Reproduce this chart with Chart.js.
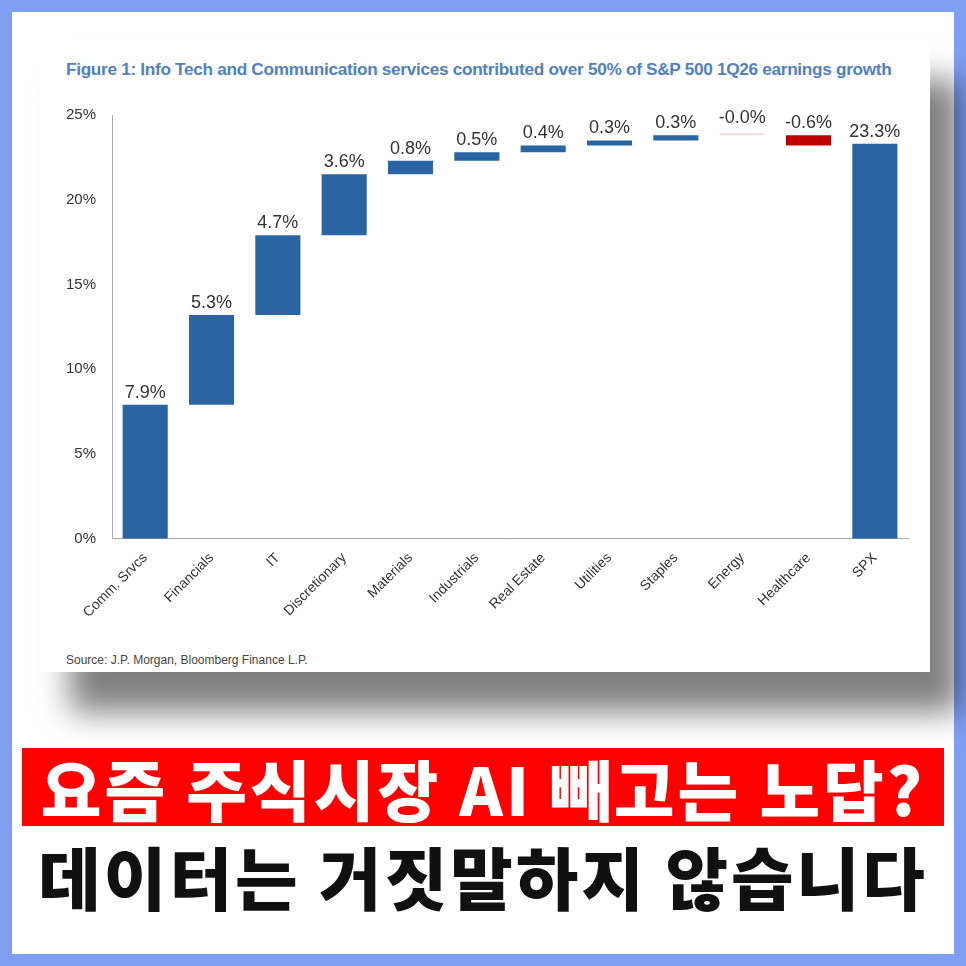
<!DOCTYPE html><html><head><meta charset="utf-8">
<script src="https://cdn.jsdelivr.net/npm/chart.js@4"></script>
<style>
body{margin:0;width:966px;height:966px;background:#7f9ff2;overflow:hidden;font-family:Arial,"Liberation Sans",sans-serif}
#page{position:absolute;left:12px;top:12px;width:942px;height:942px;background:#fff}
#card{position:absolute;left:40px;top:40px;width:890px;height:632px;background:#fff;box-shadow:30px 40px 30px rgba(0,0,0,0.5)}
#title{position:absolute;left:26px;top:19px;font-size:17.2px;font-weight:bold;color:#4f81bd;white-space:nowrap;letter-spacing:-0.3px}
#wrap{position:absolute;left:6px;top:58px;width:884px;height:526px}
#src{position:absolute;left:26px;top:613px;font-size:12px;color:#444}
#l1{position:absolute;left:22px;top:748px;width:922px;height:78px;background:#ff0000;color:#fff;font:900 66px "Noto Sans CJK KR";text-align:center;line-height:78px;letter-spacing:3px}
#l2{position:absolute;left:0;top:826px;width:966px;text-align:center;color:#111;font:900 68px "Noto Sans CJK KR";letter-spacing:3px}
</style></head><body>
<div id="page"></div>
<div id="card"><div id="title">Figure 1: Info Tech and Communication services contributed over 50% of S&amp;P 500 1Q26 earnings growth</div>
<div id="wrap"><canvas id="c"></canvas></div>
<div id="src">Source: J.P. Morgan, Bloomberg Finance L.P.</div></div>
<div id="l1">요즘 주식시장 AI 빼고는 노답?</div>
<div id="l2">데이터는 거짓말하지 않습니다</div>
<script>
const categories=["Comm. Srvcs","Financials","IT","Discretionary","Materials","Industrials","Real Estate","Utilities","Staples","Energy","Healthcare","SPX"];
const contributions=[7.9,5.3,4.7,3.6,0.8,0.5,0.4,0.3,0.3,-0.0,-0.6,23.3];
const labels=["7.9%","5.3%","4.7%","3.6%","0.8%","0.5%","0.4%","0.3%","0.3%","-0.0%","-0.6%","23.3%"];
const yTicks=[0,5,10,15,20,25];
let cum=0;const ranges=[];
contributions.forEach((v,i)=>{ if(i===contributions.length-1){ranges.push([0,v]);} else {ranges.push([cum,cum+v]);cum+=v;} });
const colors=contributions.map((v,i)=>i===9?'#f2dcdc':(v<0?'#c00000':'#2a64a2'));
const lbl={id:'lbl',afterDatasetsDraw(ch){const ctx=ch.ctx;const m=ch.getDatasetMeta(0);ctx.save();ctx.font='18px Arial';ctx.fillStyle='#333';ctx.textAlign='center';ctx.textBaseline='bottom';
m.data.forEach((b,i)=>{const top=Math.min(b.y,b.base);ctx.fillText(labels[i],b.x,top-(i===9?6:3));});ctx.restore();}};
new Chart(document.getElementById('c'),{type:'bar',data:{labels:categories,datasets:[{data:ranges,backgroundColor:colors,barPercentage:0.68,categoryPercentage:1,minBarLength:2}]},
options:{responsive:true,maintainAspectRatio:false,animation:false,layout:{padding:{top:0,right:22,left:12}},plugins:{legend:{display:false},tooltip:{enabled:false}},
scales:{y:{min:0,max:25,afterBuildTicks(s){s.ticks=yTicks.map(v=>({value:v}));},grid:{display:false},border:{display:true,color:'#aaa'},ticks:{callback:v=>v+'%',font:{size:15,family:'Arial'},color:'#333',padding:8}},
x:{grid:{display:false},border:{color:'#aaa'},ticks:{maxRotation:45,minRotation:45,font:{size:14,family:'Arial'},color:'#333'}}}},plugins:[lbl]});
</script></body></html>
